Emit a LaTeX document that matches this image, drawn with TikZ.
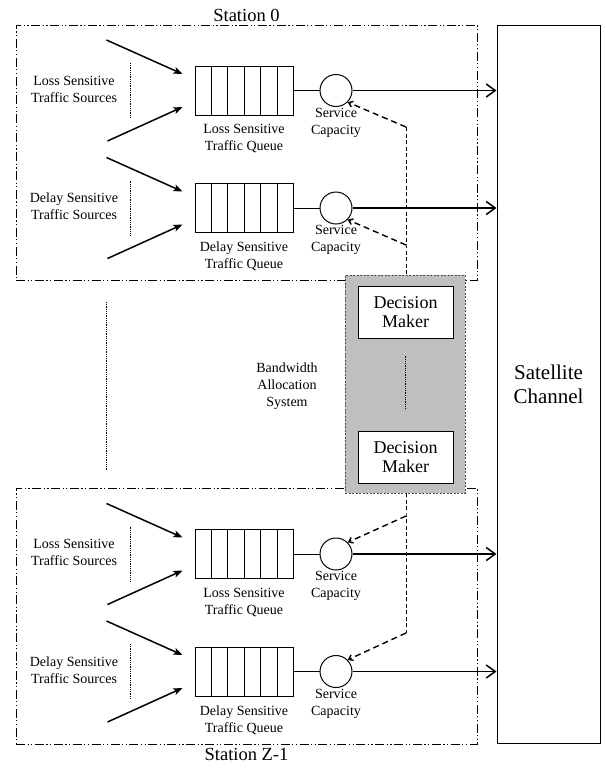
\documentclass[tikz,border=0pt]{standalone}
\usepackage{fontspec}
\setmainfont{Liberation Serif}
\usetikzlibrary{positioning, arrows.meta, calc}
\tikzset{
  stationbox/.style={
    rectangle,
    draw,
    line width=0.8pt,
    dash pattern=on 9pt off 2.5pt on 1.2pt off 2.5pt on 1.2pt off 2.5pt
  },
  stationlabel/.style={
    font=\fontsize{18.5}{21}\selectfont,
    inner sep=2pt
  },
  smalllabel/.style={
    font=\fontsize{14}{17}\selectfont,
    align=center,
    inner sep=1pt
  },
  queuebox/.style={
    rectangle,
    draw,
    line width=1pt,
    minimum width=98,
    minimum height=49
  },
  servernode/.style={
    circle,
    draw,
    line width=1pt,
    minimum size=32,
    inner sep=0pt
  },
  allocbox/.style={
    rectangle,
    draw=black!70,
    fill=black!25,
    line width=0.7pt,
    dash pattern=on 2pt off 1.5pt,
    minimum width=120,
    minimum height=218
  },
  makerbox/.style={
    rectangle,
    draw,
    fill=white,
    line width=1pt,
    minimum width=95,
    minimum height=52,
    align=center,
    font=\fontsize{18}{19}\selectfont
  },
  channelbox/.style={
    rectangle,
    draw,
    line width=1pt,
    minimum width=103,
    minimum height=718,
    align=center,
    font=\fontsize{21}{24}\selectfont
  },
  sourcearrow/.style={
    -{Stealth[length=9pt,width=7pt,inset=2pt]},
    line width=1.5pt
  },
  outarrow/.style={
    -{Straight Barb[length=9pt,width=13pt]},
    line width=1.5pt
  },
  ctrlarrow/.style={
    -{Straight Barb[length=4pt,width=6pt]},
    line width=1.4pt,
    dash pattern=on 6pt off 4pt
  },
  ctrlline/.style={
    line width=0.9pt,
    dash pattern=on 4pt off 2.5pt
  },
  dotline/.style={
    line width=0.7pt,
    dash pattern=on 0.8pt off 1pt
  }
}

\begin{document}
\begin{tikzpicture}[x=1pt, y=-1pt]
  \useasboundingbox (0,0) rectangle (605,772);

  % satellite channel
  \node[channelbox] (sat) at (548.5,384) {Satellite\\Channel};

  % stations
  \node[stationbox, minimum width=461, minimum height=255] (st0) at (246.5,152.5) {};
  \node[stationlabel, above=1pt of st0.north] (st0lbl) {Station 0};
  \node[stationbox, minimum width=461, minimum height=256] (st1) at (246.5,616) {};
  \node[stationlabel, below=2pt of st1.south] (st1lbl) {Station Z-1};

  \foreach \s/\yo in {0/0, 1/463.5} {
    \foreach \q/\dy/\kind in {l/0/Loss, d/117.5/Delay} {
      % queue with six cells
      \node[queuebox] (q\s\q) at (244,90.5+\yo+\dy) {};
      \foreach \k in {1,...,5}
        \draw[line width=1pt] ($(q\s\q.north west)!\k/6!(q\s\q.north east)$)
          -- ($(q\s\q.south west)!\k/6!(q\s\q.south east)$);
      \node[smalllabel, below=8pt of q\s\q] (ql\s\q) {\kind{} Sensitive\\Traffic Queue};

      % server
      \node[servernode] (c\s\q) at (336,90.5+\yo+\dy) {};
      \node[smalllabel, below=0pt of c\s\q] (cl\s\q) {Service\\Capacity};
      \draw[line width=0.9pt] (q\s\q.east) -- (c\s\q.west);
      \draw[outarrow] (c\s\q.east) -- (c\s\q.east -| sat.west);

      % traffic sources
      \node[smalllabel] (src\s\q) at (74,89+\yo+\dy) {\kind{} Sensitive\\Traffic Sources};
      \coordinate (srcdt\s\q) at (130,63+\yo+\dy);
      \coordinate (srcdb\s\q) at (130,118+\yo+\dy);
      \draw[dotline] (srcdt\s\q) -- (srcdb\s\q);
      \coordinate (at\s\q) at ($(q\s\q.west)+(-88,-50.5)$);
      \coordinate (ab\s\q) at ($(q\s\q.west)+(-87,50.5)$);
      \coordinate (et\s\q) at ($(q\s\q.west)+(-12,-16.5)$);
      \coordinate (eb\s\q) at ($(q\s\q.west)+(-12,16.5)$);
      \draw[sourcearrow] (at\s\q) -- (et\s\q);
      \draw[sourcearrow] (ab\s\q) -- (eb\s\q);
    }
  }

  % bandwidth allocation system
  \node[allocbox] (bas) at (405,384) {};
  \node[makerbox] (dm0) at (405.5,312) {Decision\\Maker};
  \node[makerbox] (dm1) at (405.5,457) {Decision\\Maker};
  \draw[dotline] ([yshift=-17pt]dm0.south) -- ([yshift=21pt]dm1.north);
  \node[smalllabel] (baslbl) at (287,386) {Bandwidth\\Allocation\\System};
  \coordinate (gapt) at (106,302);
  \coordinate (gapb) at (106,470);
  \draw[dotline] (gapt) -- (gapb);

  % control signals
  \coordinate (j0l) at (406,127);
  \coordinate (j0d) at (406,245);
  \coordinate (j1l) at (406,516);
  \coordinate (j1d) at (406,633);
  \draw[ctrlline] (j0l) -- (j0d) -- (j0d |- bas.north);
  \draw[ctrlline] (j1l |- bas.south) -- (j1l) -- (j1d);
  \draw[ctrlarrow] (j0l) -- (c0l.-45);
  \draw[ctrlarrow] (j0d) -- (c0d.-45);
  \draw[ctrlarrow] (j1l) -- (c1l.45);
  \draw[ctrlarrow] (j1d) -- (c1d.45);
\end{tikzpicture}
\end{document}
